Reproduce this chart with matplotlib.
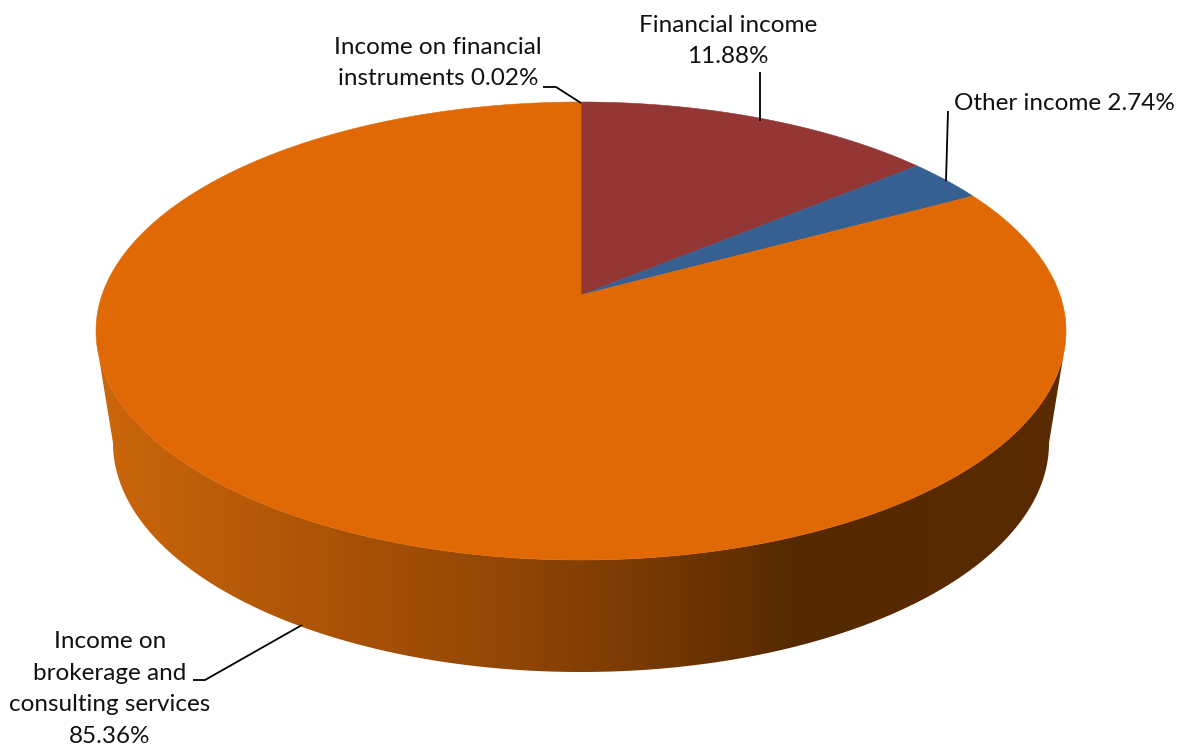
import numpy as np
import matplotlib
matplotlib.use("Agg")
import matplotlib.pyplot as plt
from matplotlib.colors import LinearSegmentedColormap
from matplotlib.patches import Polygon

# Income structure, clockwise from twelve o'clock
categories = ["Income on financial instruments", "Financial income", "Other income",
              "Income on brokerage and consulting services"]
shares = [0.02, 11.88, 2.74, 85.36]
slice_colors = ["#8a5a20", "#943634", "#366092", "#E16905"]

W, H = 1179, 747

# Tilted-pie geometry in canvas pixels
CX, TOP_CY, TOP_A, TOP_B = 581, 331, 485, 229
APEX_Y = 295
BASE_CY, BASE_A, BASE_B = 443, 468, 229

# Side-wall shading across the width of the pie
wall_stops = [(96, "#CB670B"), (300, "#AF5507"), (500, "#934705"), (650, "#773904"),
              (800, "#552900"), (1066, "#5A2B02")]


def warp(deg):
    # Perspective nudges rim angles slightly away from the top
    return deg + 1.5 * np.sin(np.radians(deg))


def rim(deg, a=TOP_A, b=TOP_B, cy=TOP_CY):
    t = np.radians(deg)
    return np.column_stack([CX + a * np.sin(t), cy - b * np.cos(t)])


fig = plt.figure(figsize=(W / 100, H / 100), dpi=100)
ax = fig.add_axes([0, 0, 1, 1])
ax.set_xlim(0, W)
ax.set_ylim(H, 0)
ax.axis("off")

# Side wall: the lower rim joined by straight flanks to the lower half of the base
rim_theta = np.linspace(95, 265, 400)
base_theta = np.linspace(270, 90, 400)
wall_outline = np.vstack([rim(rim_theta), rim(base_theta, BASE_A, BASE_B, BASE_CY)])
wall_clip = Polygon(wall_outline, closed=True, transform=ax.transData,
                    facecolor="none", edgecolor="none")
ax.add_patch(wall_clip)

x0, x1 = wall_stops[0][0], wall_stops[-1][0]
cmap = LinearSegmentedColormap.from_list(
    "wall", [((x - x0) / (x1 - x0), c) for x, c in wall_stops])
gradient = np.linspace(0, 1, 512).reshape(1, -1)
img = ax.imshow(gradient, cmap=cmap, extent=[x0, x1, 680, 300], aspect="auto",
                interpolation="bilinear", zorder=1)
img.set_clip_path(wall_clip)
ax.set_xlim(0, W)
ax.set_ylim(H, 0)

# Top face, one wedge per share, all meeting at the displaced apex
edges = np.concatenate([[0], np.cumsum(shares)]) * 3.6
for start, stop, color in zip(edges[:-1], edges[1:], slice_colors):
    arc = rim(warp(np.linspace(start, stop, max(int(stop - start) * 3, 2))))
    pts = np.vstack([[CX, APEX_Y], arc])
    ax.add_patch(Polygon(pts, closed=True, facecolor=color, edgecolor=color,
                         linewidth=0.4, zorder=2))

# Data labels with their leader lines
label_font = dict(family="Lato", fontsize=17.5, color="#111111", ha="center",
                  va="center", zorder=4, linespacing=1.64)
labels = [
    ("Income on financial\ninstruments {:.2f}%", 438, 63),
    ("Financial income\n{:.2f}%", 728, 41),
    ("Other income {:.2f}%", 1064, 103),
    ("Income on\nbrokerage and\nconsulting services\n{:.2f}%", 110, 689),
]
for (text, x, y), value in zip(labels, shares):
    ax.text(x, y, text.format(value), **label_font)

leaders = [
    ([543, 556, 581], [87, 87, 103]),
    ([760, 760], [72, 121]),
    ([948, 946], [111, 181]),
    ([193, 205, 302], [680, 680, 625]),
]
for xs, ys in leaders:
    ax.plot(xs, ys, color="black", linewidth=1.3, zorder=3,
            solid_capstyle="butt", solid_joinstyle="miter")

fig.savefig("out.png", dpi=100, facecolor="white")
